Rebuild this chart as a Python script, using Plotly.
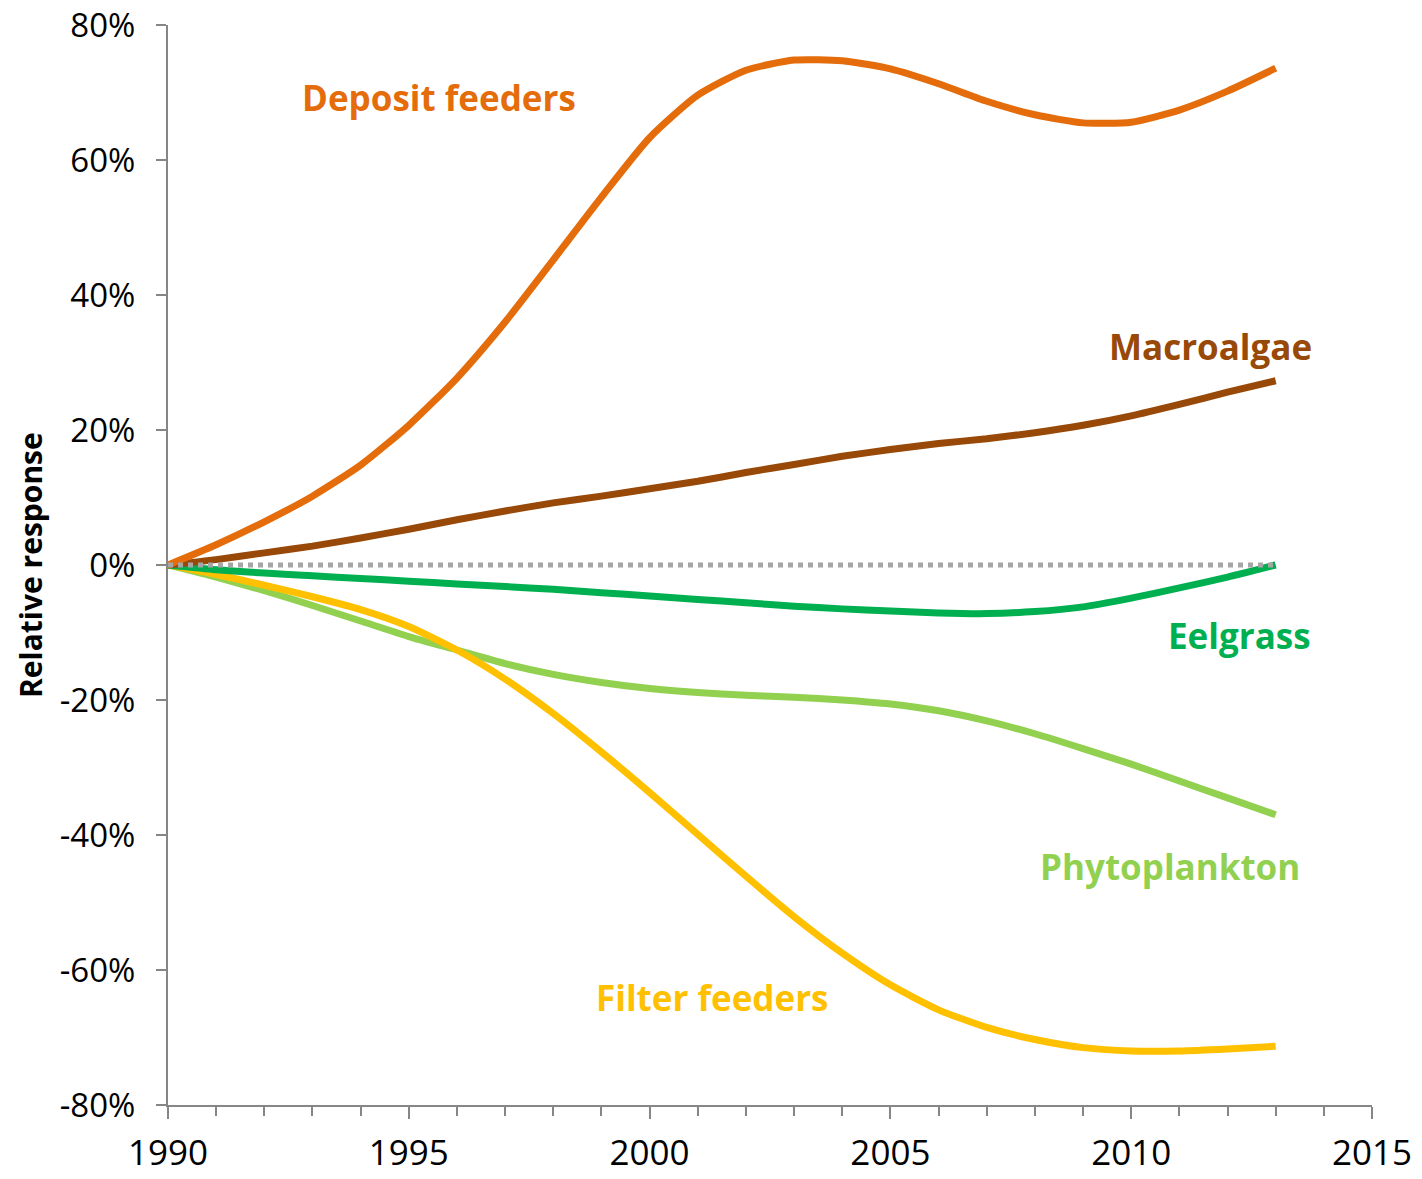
import plotly.graph_objects as go

years = list(range(1990, 2014))
deposit_feeders = [0, 3.0, 6.4, 10.2, 14.8, 20.7, 27.7, 36.0, 45.2, 54.5, 63.3, 69.6, 73.3, 74.8, 74.7,
                   73.5, 71.3, 68.7, 66.7, 65.5, 65.6, 67.4, 70.2, 73.6]
macroalgae = [0, 0.8, 1.8, 2.8, 4.0, 5.3, 6.7, 8.0, 9.2, 10.2, 11.3, 12.4, 13.7, 14.9, 16.1,
              17.1, 18.0, 18.7, 19.6, 20.7, 22.1, 23.8, 25.6, 27.3]
eelgrass = [0, -0.7, -1.2, -1.6, -2.0, -2.4, -2.8, -3.2, -3.6, -4.1, -4.6, -5.1, -5.6, -6.1, -6.5,
            -6.8, -7.1, -7.2, -6.9, -6.2, -4.9, -3.4, -1.8, 0]
phytoplankton = [0, -1.8, -3.8, -6.0, -8.3, -10.6, -12.6, -14.6, -16.2, -17.4, -18.3, -18.9, -19.3, -19.6,
                 -20.0, -20.6, -21.6, -23.1, -25.0, -27.2, -29.5, -32.0, -34.5, -37.0]
filter_feeders = [0, -1.4, -3.0, -4.7, -6.6, -9.1, -12.6, -16.9, -22.0, -27.7, -33.7, -39.9, -46.1, -52.1,
                  -57.5, -62.2, -65.9, -68.5, -70.3, -71.5, -72.0, -72.0, -71.7, -71.3]
zero_line = [0] * len(years)

series = [
    ("Phytoplankton", phytoplankton, "#92D050", 2010.8, -44.6),
    ("Filter feeders", filter_feeders, "#FFC000", 2001.3, -64.0),
    ("Eelgrass", eelgrass, "#00B050", 2012.25, -10.5),
    ("Macroalgae", macroalgae, "#984807", 2011.65, 32.3),
    ("Deposit feeders", deposit_feeders, "#E46C0A", 1995.63, 69.3),
]

fig = go.Figure()
for name, vals, color, ax, ay in series:
    fig.add_trace(go.Scatter(x=years, y=vals, mode="lines", name=name,
                             line=dict(color=color, width=7, shape="spline", smoothing=0.6)))
    fig.add_annotation(x=ax, y=ay, text=f"<b>{name}</b>", showarrow=False,
                       font=dict(family="Open Sans", size=35, color=color))

fig.add_trace(go.Scatter(x=years, y=zero_line, mode="lines", name="zero",
                         line=dict(color="#A6A6A6", width=5, dash="dot")))

# plot area spans x 168..1372 px; title centre at x=30 px
fig.add_annotation(xref="paper", yref="paper", x=(30 - 168) / 1204, y=0.5, text="<b>Relative response</b>",
                   textangle=-90, showarrow=False, xanchor="center", yanchor="middle",
                   font=dict(family="Open Sans", size=30, color="black"))

fig.update_layout(
    width=1422, height=1179,
    margin=dict(l=168, r=50, t=25, b=74),
    paper_bgcolor="white", plot_bgcolor="white",
    showlegend=False,
    font=dict(family="Open Sans", color="black"),
)
fig.update_xaxes(range=[1990, 2015], tickvals=[1990, 1995, 2000, 2005, 2010, 2015],
                 automargin=False, ticklabeloverflow="allow",
                 showgrid=False, zeroline=False, showline=True, linecolor="#868686", linewidth=2,
                 ticks="outside", ticklen=12, tickwidth=2, tickcolor="#868686",
                 tickfont=dict(size=35, family="Open Sans"), ticklabelstandoff=4,
                 minor=dict(dtick=1, tick0=1990, ticks="outside", ticklen=9, tickwidth=2, tickcolor="#868686"))
fig.update_yaxes(range=[-80, 80], tickvals=list(range(-80, 81, 20)),
                 ticktext=[f"{v}%" for v in range(-80, 81, 20)],
                 automargin=False, ticklabeloverflow="allow",
                 showgrid=False, zeroline=False, showline=True, linecolor="#868686", linewidth=2,
                 ticks="outside", ticklen=10, tickwidth=2, tickcolor="#868686",
                 tickfont=dict(size=33, family="Open Sans"), ticklabelstandoff=14)

fig.write_html("out.html", config={"displayModeBar": False},
               post_script="document.body.style.margin='0';")
